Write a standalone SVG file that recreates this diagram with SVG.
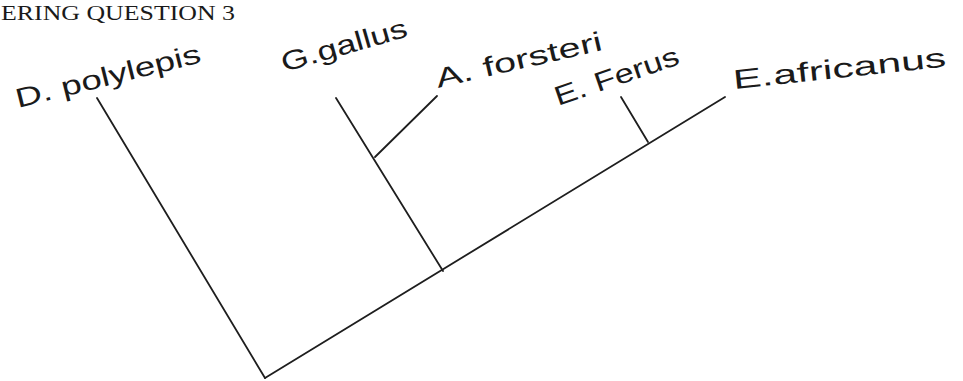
<svg xmlns="http://www.w3.org/2000/svg" width="963" height="381" viewBox="0 0 963 381">
  <style>
    .bg { fill: #ffffff; }
    .hdr { font-family: "Liberation Serif", serif; font-size: 21px; fill: #1a1a1a; }
    .lbl { font-family: "Liberation Sans", sans-serif; font-size: 27px; fill: #1a1a1a; }
    .br { stroke: #1e1e1e; stroke-width: 1.8; fill: none; stroke-linecap: round; }
  </style>
  <rect class="bg" x="0" y="0" width="963" height="381"/>
  <text class="hdr" x="1" y="20" textLength="234" lengthAdjust="spacingAndGlyphs">ERING QUESTION 3</text>

  <g id="connectors">
    <line class="br" x1="97" y1="98" x2="265" y2="378"/>
    <line class="br" x1="265" y1="378" x2="725" y2="97"/>
    <line class="br" x1="336" y1="98" x2="443" y2="271"/>
    <line class="br" x1="375" y1="157" x2="437" y2="96"/>
    <line class="br" x1="621" y1="97" x2="648" y2="142"/>
  </g>

  <g id="d-polylepis">
    <text class="lbl" transform="translate(18,108) rotate(-14)" textLength="190" lengthAdjust="spacingAndGlyphs">D. polylepis</text>
  </g>
  <g id="g-gallus">
    <text class="lbl" transform="translate(284,72) rotate(-16)" textLength="130" lengthAdjust="spacingAndGlyphs">G.gallus</text>
  </g>
  <g id="a-forsteri">
    <text class="lbl" transform="translate(438,88) rotate(-13)" textLength="170" lengthAdjust="spacingAndGlyphs">A. forsteri</text>
  </g>
  <g id="e-ferus">
    <text class="lbl" transform="translate(558,106) rotate(-19)" textLength="130" lengthAdjust="spacingAndGlyphs">E. Ferus</text>
  </g>
  <g id="e-africanus">
    <text class="lbl" transform="translate(734,89) rotate(-6)" textLength="214" lengthAdjust="spacingAndGlyphs">E.africanus</text>
  </g>
</svg>
